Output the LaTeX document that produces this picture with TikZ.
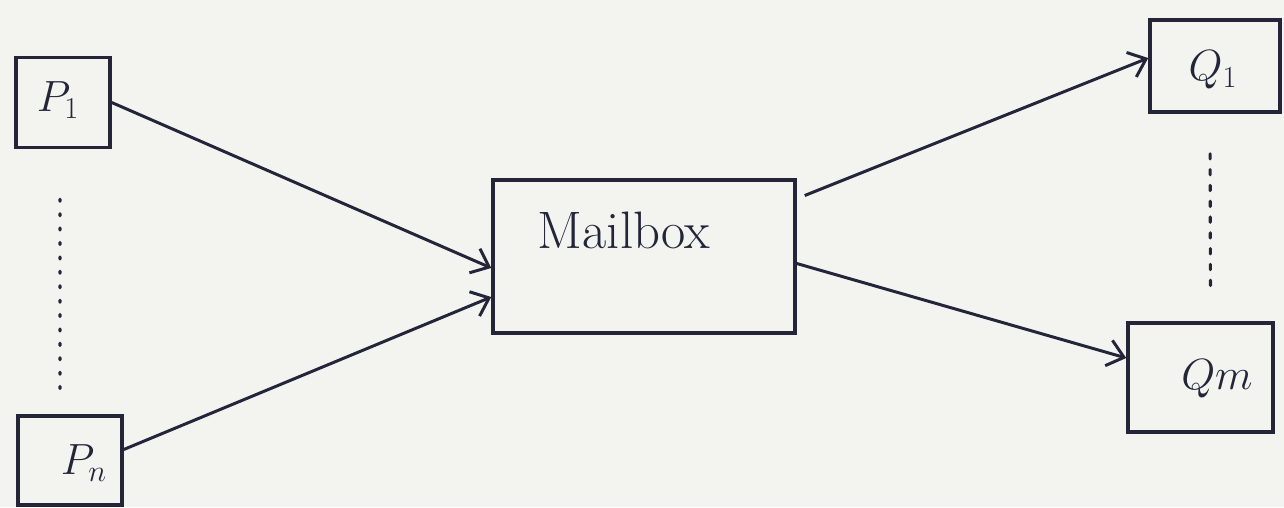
\documentclass[tikz,border=0pt]{standalone}
\usetikzlibrary{arrows.meta,calc}
\definecolor{ink}{HTML}{25253A}
\definecolor{paper}{HTML}{F3F4F0}
\begin{document}
\begin{tikzpicture}[x=0.02cm,y=-0.02cm,
  box/.style={draw=ink,line width=2pt,rectangle,inner sep=0pt},
  lbl/.style={text=ink,font=\fontsize{24}{26}\selectfont},
  conn/.style={draw=ink,line width=1.7pt,-{Straight Barb[length=9pt,width=15pt,line width=1.7pt]}},
  dotline/.style={draw=ink,line width=1.8pt,dash pattern=on 1.2pt off 7pt,line cap=round}]
\fill[paper] (0,0) rectangle (1284,507);
\useasboundingbox (0,0) rectangle (1284,507);
\node[box,minimum width=1.88cm,minimum height=1.8cm] (p1) at (63,102.5) {};
\node[lbl] (p1t) at (58,100) {$P_1$};
\node[box,minimum width=2.08cm,minimum height=1.78cm] (pn) at (70,460.5) {};
\node[lbl] (pnt) at (84,463) {$P_n$};
\node[box,minimum width=6.04cm,minimum height=3.06cm] (mb) at (644,256.5) {};
\node[lbl,font=\fontsize{30}{32}\selectfont] (mbt) at (624,230) {Mailbox};
\node[box,minimum width=2.6cm,minimum height=1.84cm] (q1) at (1215,66) {};
\node[lbl] (q1t) at (1213,70) {$Q_1$};
\node[box,minimum width=2.9cm,minimum height=2.18cm] (qm) at (1200.5,377.5) {};
\node[lbl] (qmt) at (1217,379) {$Qm$};
\draw[conn] (p1.east) -- ([yshift=-0.23cm]mb.west);
\draw[conn] ([yshift=0.22cm]pn.east) -- ([yshift=-0.81cm]mb.west);
\draw[conn] ([xshift=0.16cm,yshift=1.22cm]mb.east) -- ([yshift=0.16cm]q1.west);
\draw[conn] ([yshift=-0.14cm]mb.east) -- ([yshift=0.39cm]qm.west);
\draw[dotline,shorten <=1.0cm,shorten >=0.3cm] ([xshift=-0.06cm]p1.south) -- ([xshift=-0.2cm]pn.north);
\draw[dotline,dash pattern=on 3pt off 6pt,shorten <=0.8cm,shorten >=0.6cm] ([xshift=-0.1cm]q1.south) -- ([xshift=0.2cm]qm.north);
\end{tikzpicture}
\end{document}
